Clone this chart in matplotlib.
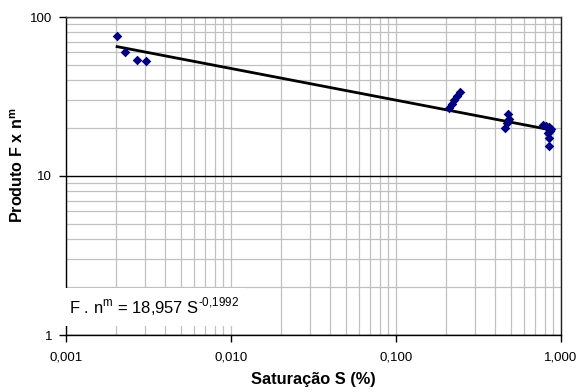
import numpy as np
import matplotlib
matplotlib.use("Agg")
import matplotlib.pyplot as plt
from matplotlib.ticker import LogLocator, FixedLocator, FixedFormatter, NullFormatter

plt.rcParams['font.family'] = ['Liberation Sans', 'DejaVu Sans']

# saturation S (%) and product F x n^m
saturacao = [0.00204, 0.00228, 0.00271, 0.00307,
             0.210, 0.218, 0.226, 0.234, 0.244,
             0.476, 0.482, 0.468, 0.458,
             0.78, 0.81, 0.84, 0.87, 0.835, 0.845, 0.85, 0.86]
produto = [76.0, 60.5, 53.4, 52.6,
           26.8, 28.4, 30.1, 31.8, 33.7,
           24.5, 22.8, 21.5, 20.0,
           20.9, 20.6, 20.4, 19.8, 18.7, 17.4, 15.5, 19.2]

# power trendline coefficients
coef_a = 18.957
coef_b = -0.1992

x_ticks = [0.001, 0.01, 0.1, 1]
x_ticklabels = ['0,001', '0,010', '0,100', '1,000']
y_ticks = [1, 10, 100]
y_ticklabels = ['1', '10', '100']

fig = plt.figure(figsize=(5.79, 3.92), dpi=100)
ax = fig.add_axes([66 / 579, 1 - 335 / 392, 495 / 579, 318 / 392])
ax.set_xscale('log')
ax.set_yscale('log')
ax.set_xlim(0.001, 1)
ax.set_ylim(1, 100)

ax.xaxis.set_major_locator(FixedLocator(x_ticks))
ax.xaxis.set_major_formatter(FixedFormatter(x_ticklabels))
ax.yaxis.set_major_locator(FixedLocator(y_ticks))
ax.yaxis.set_major_formatter(FixedFormatter(y_ticklabels))
ax.xaxis.set_minor_locator(LogLocator(base=10, subs=np.arange(2, 10)))
ax.yaxis.set_minor_locator(LogLocator(base=10, subs=np.arange(2, 10)))
ax.xaxis.set_minor_formatter(NullFormatter())
ax.yaxis.set_minor_formatter(NullFormatter())

# grid: gray verticals, gray minor horizontals, black major horizontal
ax.grid(True, which='both', axis='x', color='#c0c0c0', linewidth=0.9)
ax.grid(True, which='minor', axis='y', color='#c0c0c0', linewidth=0.9)
ax.grid(True, which='major', axis='y', color='black', linewidth=1.0)
ax.set_axisbelow(True)

ax.tick_params(which='major', direction='out', length=5, width=1, labelsize=9.5, pad=7)
ax.tick_params(axis='y', which='major', pad=5)
ax.tick_params(which='minor', length=0)

for side in ['left', 'bottom', 'right', 'top']:
    ax.spines[side].set_linewidth(1.0)
ax.spines['top'].set_color('#404040')
ax.spines['right'].set_color('#202020')

# power trendline
xs = np.logspace(np.log10(min(saturacao)), np.log10(max(saturacao)), 200)
ax.plot(xs, coef_a * xs ** coef_b, color='black', linewidth=2, zorder=3)

ax.scatter(saturacao, produto, marker='D', s=24, color='#000080', zorder=4, linewidths=0)

# hyphen instead of mathtext minus in the exponent
eq = r'F . n$^{\mathregular{m}}$ = 18,957 S$^{\mathregular{' + '\u2010' + r'0{,}1992}}$'
ax.text(0.00104, 1.50, eq, fontsize=12, va='center', ha='left', zorder=5,
        bbox=dict(facecolor='white', edgecolor='none', boxstyle='square,pad=0.45'))

ax.set_xlabel('Saturação S (%)', fontsize=11.8, fontweight='bold', labelpad=6)
ax.set_ylabel(r'Produto F x n$^{\mathregular{m}}$', fontsize=11.6, fontweight='bold')
ax.yaxis.set_label_coords(-0.081, 0.535)

fig.savefig('out.png', dpi=100)
